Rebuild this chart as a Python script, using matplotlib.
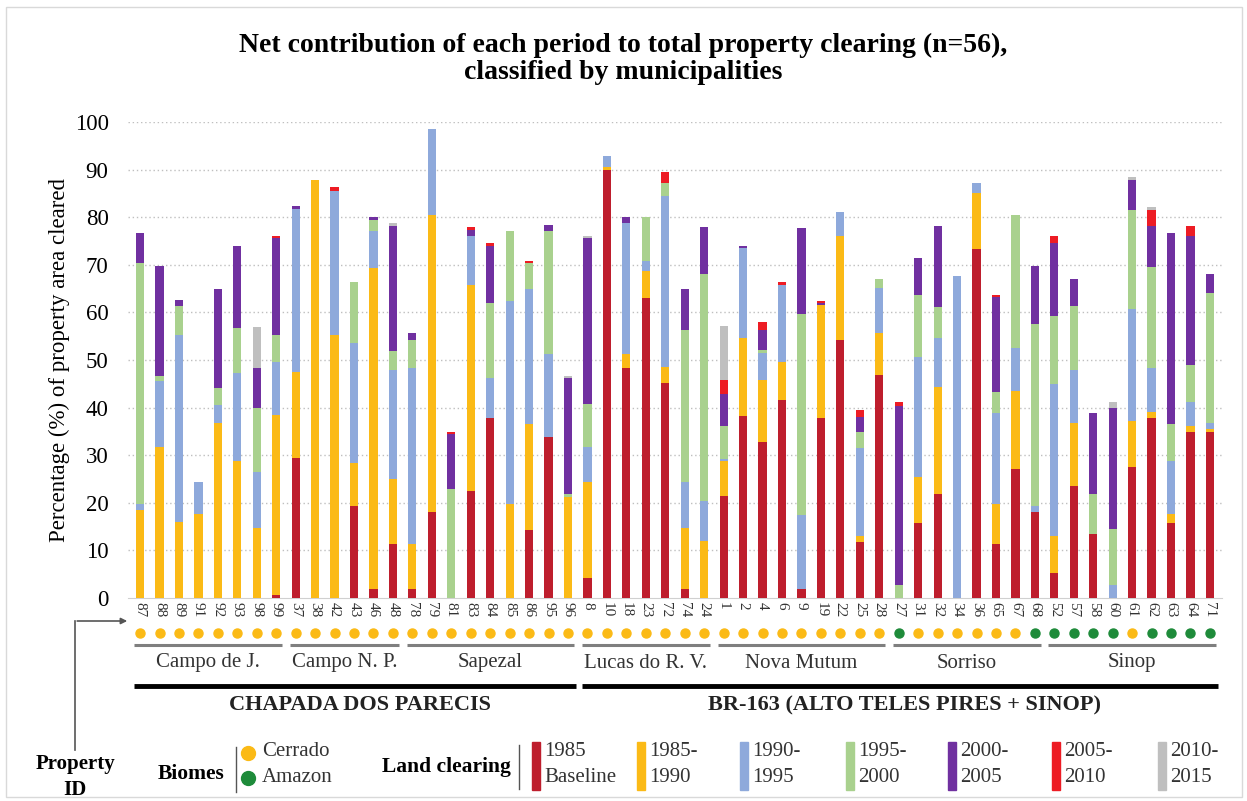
import matplotlib.pyplot as plt
import matplotlib.transforms as mtransforms
from matplotlib.patches import Rectangle, FancyArrowPatch
from matplotlib.lines import Line2D
import numpy as np

plt.rcParams['font.family'] = ['Liberation Serif', 'DejaVu Serif']

W, H = 1247, 801

# Property IDs, left to right
property_ids = [87, 88, 89, 91, 92, 93, 98, 99,
                37, 38, 42, 43, 46, 48,
                78, 79, 81, 83, 84, 85, 86, 95, 96,
                8, 10, 18, 23, 72, 74, 24,
                1, 2, 4, 6, 9, 19, 22, 25, 28,
                27, 31, 32, 34, 36, 65, 67, 68,
                52, 57, 58, 60, 61, 62, 63, 64, 71]

# C = Cerrado, A = Amazon
biomes = list("CCCCCCCC" "CCCCCC" "CCCCCCCCC" "CCCCCCC" "CCCCCCCCC"
              "ACCCCCCA" "AAAACAAAA")

municipalities = ['Campo de J.', 'Campo N. P.', 'Sapezal', 'Lucas do R. V.',
                  'Nova Mutum', 'Sorriso', 'Sinop']
muni_sizes = [8, 6, 9, 7, 9, 8, 9]
regions = ['CHAPADA DOS PARECIS', 'BR-163 (ALTO TELES PIRES + SINOP)']
region_sizes = [23, 33]

# Net contribution (%) of each period, one value per property
baseline_1985 = [0, 0, 0, 0, 0, 0, 0, 0.7,
                 29.4, 0, 0, 19.3, 1.8, 11.4,
                 1.8, 18.0, 0, 22.5, 37.8, 0, 14.2, 33.9, 0,
                 4.1, 90.0, 48.4, 63.1, 45.2, 1.8, 0,
                 21.5, 38.3, 32.7, 41.7, 1.8, 37.8, 54.1, 11.8, 46.8,
                 0, 15.7, 21.9, 0, 73.3, 11.4, 27.2, 18.0,
                 5.2, 23.6, 13.5, 0, 27.6, 37.8, 15.8, 34.9, 34.9]
p1985_1990 = [18.5, 31.7, 15.9, 17.6, 36.7, 28.8, 14.8, 37.7,
              18.0, 87.8, 55.3, 9.0, 67.6, 13.5,
              9.6, 62.5, 0, 43.3, 0, 19.8, 22.4, 0, 21.2,
              20.2, 0.6, 2.8, 5.7, 3.4, 13.0, 11.9,
              7.2, 16.4, 13.0, 7.8, 0, 23.7, 21.9, 1.3, 8.9,
              0, 9.8, 22.5, 0, 11.8, 8.4, 16.3, 0,
              7.9, 13.1, 0, 0, 9.6, 1.2, 1.8, 1.3, 0.7]
p1990_1995 = [1.2, 13.9, 39.4, 6.7, 3.8, 18.5, 11.6, 11.1,
              34.4, 0, 30.2, 25.2, 7.7, 22.9,
              36.9, 18.1, 0, 10.2, 8.5, 42.7, 28.3, 17.3, 0,
              7.4, 2.3, 27.6, 2.1, 35.8, 9.5, 8.4,
              0.4, 18.9, 5.7, 16.3, 15.6, 0, 5.1, 18.4, 9.5,
              0, 25.2, 10.2, 67.6, 2.1, 19.0, 9.0, 1.3,
              31.9, 11.1, 0, 2.8, 23.5, 9.4, 11.1, 4.9, 1.1]
p1995_2000 = [50.6, 1.1, 6.0, 0, 3.6, 9.5, 13.5, 5.8,
              0, 0, 0, 12.9, 2.3, 4.0,
              5.8, 0, 23.0, 0, 15.6, 14.6, 5.4, 25.9, 0.7,
              9.0, 0, 0, 9.2, 2.8, 31.9, 47.8,
              7.0, 0, 0.6, 0, 42.3, 0, 0, 3.3, 1.9,
              2.8, 12.9, 6.6, 0, 0, 4.5, 28.0, 38.3,
              14.2, 13.5, 8.4, 11.8, 20.9, 21.2, 7.9, 7.8, 27.4]
p2000_2005 = [6.3, 23.1, 1.3, 0, 20.8, 17.1, 8.5, 20.3,
              0.6, 0, 0, 0, 0.6, 26.4,
              1.6, 0, 11.5, 1.3, 12.0, 0, 0, 1.3, 24.4,
              34.9, 0, 1.3, 0, 0, 8.7, 9.8,
              6.8, 0.3, 4.2, 0, 18.0, 0.5, 0, 3.3, 0,
              37.5, 7.9, 17.0, 0, 0, 19.9, 0, 12.2,
              15.3, 5.7, 16.9, 25.3, 6.2, 8.6, 40.0, 27.1, 4.0]
p2005_2010 = [0, 0, 0, 0, 0, 0, 0, 0.5,
              0, 0, 0.8, 0, 0, 0,
              0, 0, 0.4, 0.6, 0.6, 0, 0.6, 0, 0,
              0, 0, 0, 0, 2.4, 0, 0,
              2.9, 0, 1.8, 0.6, 0, 0.3, 0, 1.5, 0,
              0.8, 0, 0, 0, 0, 0.5, 0, 0,
              1.6, 0, 0, 0, 0, 3.4, 0, 2.2, 0]
p2010_2015 = [0, 0, 0, 0, 0, 0, 8.6, 0,
              0, 0, 0, 0, 0, 0.5,
              0, 0, 0, 0, 0, 0, 0, 0, 0.4,
              0.4, 0, 0, 0, 0, 0, 0,
              11.3, 0, 0, 0, 0, 0, 0, 0, 0,
              0, 0, 0, 0, 0, 0, 0, 0,
              0, 0, 0, 1.2, 0.6, 0.5, 0, 0, 0]

periods = [baseline_1985, p1985_1990, p1990_1995, p1995_2000,
           p2000_2005, p2005_2010, p2010_2015]
period_labels = ['1985\nBaseline', '1985-\n1990', '1990-\n1995', '1995-\n2000',
                 '2000-\n2005', '2005-\n2010', '2010-\n2015']
colors = ['#BE1E2D', '#FBBA16', '#8EA9DB', '#A9D18E', '#7030A0', '#ED1C24', '#BFBFBF']
biome_colors = {'C': '#FBBA16', 'A': '#1E8B3A'}


def fx(x):
    return x / W


def fy(y):
    return 1 - y / H


fig = plt.figure(figsize=(W / 100, H / 100), dpi=100)
ax = fig.add_axes([fx(128), fy(598), fx(1222) - fx(128), fy(122) - fy(598)])

x = np.arange(len(property_ids))
bottom = np.zeros(len(property_ids))
for vals, col in zip(periods, colors):
    ax.bar(x, vals, width=0.42, bottom=bottom, color=col, zorder=3)
    bottom += np.array(vals)

ax.set_xlim(-0.62, len(property_ids) - 0.38)
ax.set_ylim(0, 100)
ax.set_yticks(range(0, 101, 10))
ax.tick_params(axis='y', length=0, labelsize=16.5, pad=14)
ax.set_xticks(x)
ax.set_xticklabels(property_ids, rotation=270, fontsize=11, color='#333333')
ax.tick_params(axis='x', length=0, pad=3)
for y in range(10, 101, 10):
    ax.axhline(y, color='#BFBFBF', lw=1, ls=(0, (1, 2)), zorder=1)
for s in ['top', 'right', 'left']:
    ax.spines[s].set_visible(False)
ax.spines['bottom'].set_color('#D0D0D0')
ax.set_ylabel('Percentage (%) of property area cleared', fontsize=16.5, labelpad=3)

fig.text(0.5, fy(59), 'Net contribution of each period to total property clearing (n=56),\n'
         'classified by municipalities', ha='center', va='center',
         fontsize=20, fontweight='bold', linespacing=1.12)

trans = mtransforms.blended_transform_factory(ax.transData, fig.transFigure)

# biome dots
for i, b in enumerate(biomes):
    ax.plot(i, fy(633), 'o', color=biome_colors[b], ms=6.5, transform=trans, clip_on=False)

# municipality brackets
start = 0
for name, n in zip(municipalities, muni_sizes):
    end = start + n - 1
    ax.plot([start - 0.3, end + 0.3], [fy(645)] * 2, color='#7F7F7F', lw=2.2,
            transform=trans, clip_on=False, solid_capstyle='butt')
    ax.text((start + end) / 2, fy(663), name, ha='center', va='center',
            fontsize=15, color='#333333', transform=trans)
    start += n

# region brackets
start = 0
for name, n in zip(regions, region_sizes):
    end = start + n - 1
    ax.plot([start - 0.3, end + 0.4], [fy(686)] * 2, color='black', lw=3.5,
            transform=trans, clip_on=False, solid_capstyle='butt')
    ax.text((start + end) / 2 + 0.3, fy(705), name, ha='center', va='center',
            fontsize=16, fontweight='bold', color='#222222', transform=trans)
    start += n

# property ID pointer
fig.add_artist(Line2D([fx(75), fx(75)], [fy(750), fy(621)], color='#555555', lw=1.2))
fig.add_artist(FancyArrowPatch((fx(74.4), fy(621)), (fx(130), fy(621)), arrowstyle='-|>',
                               mutation_scale=9, color='#555555', lw=1.2,
                               transform=fig.transFigure))
fig.text(fx(75), fy(764), 'Property', ha='center', va='center', fontsize=15, fontweight='bold')
fig.text(fx(75), fy(790), 'ID', ha='center', va='center', fontsize=15, fontweight='bold')

# biome legend
fig.text(fx(158), fy(774), 'Biomes', ha='left', va='center', fontsize=15.5, fontweight='bold')
fig.add_artist(Line2D([fx(236), fx(236)], [fy(747), fy(792)], color='#555555', lw=1))
fig.add_artist(Line2D([fx(248)], [fy(753)], marker='o', ms=10, color=biome_colors['C']))
fig.add_artist(Line2D([fx(248)], [fy(778)], marker='o', ms=10, color=biome_colors['A']))
fig.text(fx(262), fy(752), 'Cerrado', ha='left', va='center', fontsize=15, color='#333333')
fig.text(fx(262), fy(777), 'Amazon', ha='left', va='center', fontsize=15, color='#333333')

# land clearing legend
fig.text(fx(382), fy(767), 'Land clearing', ha='left', va='center', fontsize=15.5, fontweight='bold')
fig.add_artist(Line2D([fx(519), fx(519)], [fy(745), fy(789)], color='#555555', lw=1))
leg_x = [532, 637, 740, 846, 948, 1052, 1158]
for lx, lab, col in zip(leg_x, period_labels, colors):
    fig.add_artist(Rectangle((fx(lx), fy(790)), fx(8), fy(742) - fy(790), color=col,
                             transform=fig.transFigure))
    line1, line2 = lab.split('\n')
    fig.text(fx(lx + 12), fy(752), line1, ha='left', va='center', fontsize=15, color='#333333')
    fig.text(fx(lx + 12), fy(777), line2, ha='left', va='center', fontsize=15, color='#333333')

# faint frame around the figure
fig.add_artist(Rectangle((fx(6), fy(797)), fx(1236), fy(7) - fy(797), fill=False,
                         ec='#D9D9D9', lw=1, transform=fig.transFigure))

fig.savefig('out.png', dpi=100)
